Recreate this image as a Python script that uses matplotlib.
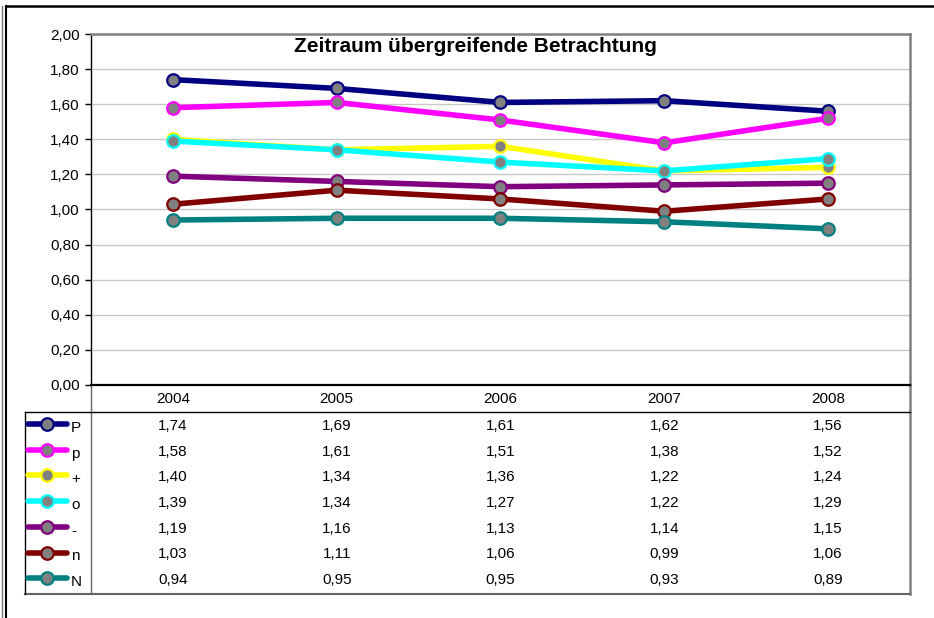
import matplotlib
matplotlib.use("Agg")
import matplotlib.pyplot as plt
import matplotlib.transforms as mtransforms
from matplotlib.ticker import FuncFormatter, MultipleLocator

# Jahre (Kategorien der x-Achse)
years = ["2004", "2005", "2006", "2007", "2008"]

# Reihen, Werte wie in der Datentabelle
labels = ["P", "p", "+", "o", "-", "n", "N"]
vals_P = [1.74, 1.69, 1.61, 1.62, 1.56]
vals_p = [1.58, 1.61, 1.51, 1.38, 1.52]
vals_plus = [1.40, 1.34, 1.36, 1.22, 1.24]
vals_o = [1.39, 1.34, 1.27, 1.22, 1.29]
vals_minus = [1.19, 1.16, 1.13, 1.14, 1.15]
vals_n = [1.03, 1.11, 1.06, 0.99, 1.06]
vals_N = [0.94, 0.95, 0.95, 0.93, 0.89]
series = [vals_P, vals_p, vals_plus, vals_o, vals_minus, vals_n, vals_N]

colors = ["#000080", "#FF00FF", "#FFFF00", "#00FFFF", "#800080", "#800000", "#008080"]

W, H = 934, 618
FS = 11
plt.rcParams["font.family"] = ["Liberation Sans", "DejaVu Sans"]

fig = plt.figure(figsize=(W / 100, H / 100), dpi=100)

# Overlay in Pixelkoordinaten fuer Rahmen und Datentabelle
ov = fig.add_axes([0, 0, 1, 1], zorder=0)
ov.set_xlim(0, W)
ov.set_ylim(H, 0)
ov.axis("off")

# Plotbereich (Pixel: x 91..910, y 34..385)
left, right, top, bottom = 91, 910, 34, 385
ax = fig.add_axes([left / W, 1 - bottom / H, (right - left) / W, (bottom - top) / H], zorder=2)
ax.set_facecolor("none")

x = list(range(len(years)))
line_style = dict(lw=4, marker="o", markersize=9, markerfacecolor="#808080",
                  markeredgewidth=1.6, solid_capstyle="round")
for vals, c in zip(series, colors):
    ax.plot(x, vals, color=c, markeredgecolor=c, **line_style)

ax.set_xlim(-0.5, len(years) - 0.5)
ax.set_ylim(0, 2.0)
ax.yaxis.set_major_locator(MultipleLocator(0.2))
ax.yaxis.set_major_formatter(FuncFormatter(lambda v, p: f"{v:.2f}".replace(".", ",")))
ax.set_xticks([])
ax.tick_params(axis="y", direction="out", length=4, width=1, labelsize=FS, pad=4)
ax.grid(axis="y", color="#c8c8c8", lw=1)
ax.set_axisbelow(True)
ax.spines["left"].set_color("black")
ax.spines["left"].set_linewidth(1)
ax.spines["bottom"].set_color("black")
ax.spines["bottom"].set_linewidth(1.6)
for s in ("top", "right"):
    ax.spines[s].set_color("#808080")
    ax.spines[s].set_linewidth(1.8)

ax.text(0.47, 0.965, "Zeitraum übergreifende Betrachtung", transform=ax.transAxes,
        ha="center", va="center", fontsize=15, fontweight="bold")

# Aeusserer Rahmen
ov.plot([6, W], [6, 6], color="black", lw=1.8)
ov.plot([6, 6], [6, H], color="black", lw=1.5)
ov.plot([1.5, 1.5], [6, H], color="#777777", lw=1)

# Datentabelle
tab_left, tab_top, tab_bottom = 25, 412, 594
row_h = 25.7
first_row = 426
ov.plot([left, left], [bottom, tab_bottom], color="#666666", lw=1)
ov.plot([right, right], [bottom, tab_bottom], color="#808080", lw=1.8)
ov.plot([tab_left, right], [tab_top, tab_top], color="black", lw=1)
ov.plot([tab_left, right], [tab_bottom, tab_bottom], color="#666666", lw=1.5)
ov.plot([tab_left, tab_left], [tab_top, tab_bottom], color="black", lw=1)

# x-Positionen der Spalten aus der Achse, y in Pixeln
blend = mtransforms.blended_transform_factory(ax.transData, ov.transData)
for i, yr in enumerate(years):
    ov.text(i, 399, yr, transform=blend, ha="center", va="center", fontsize=FS)

for r, (lab, vals, c) in enumerate(zip(labels, series, colors)):
    yrow = first_row + r * row_h
    ov.plot([28, 67], [yrow - 2, yrow - 2], color=c, lw=4, solid_capstyle="round")
    ov.plot([47], [yrow - 2], color=c, marker="o", markersize=9,
            markerfacecolor="#808080", markeredgecolor=c, markeredgewidth=1.6)
    ov.text(71, yrow + 2, lab, ha="left", va="center", fontsize=FS)
    for i, v in enumerate(vals):
        ov.text(i, yrow, f"{v:.2f}".replace(".", ","), transform=blend,
                ha="center", va="center", fontsize=FS)

fig.savefig("out.png", dpi=100, facecolor="white")
